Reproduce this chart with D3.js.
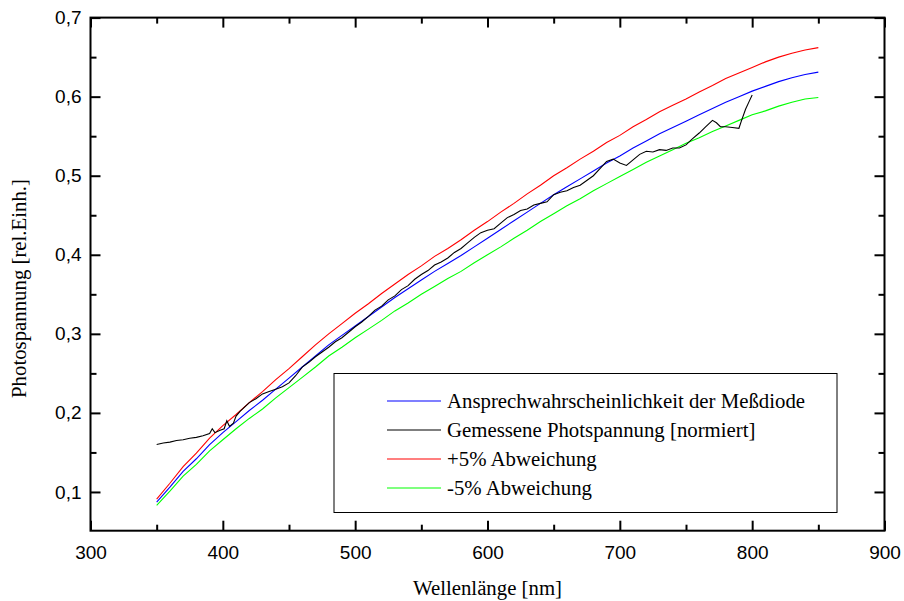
<!DOCTYPE html>
<html>
<head>
<meta charset="utf-8">
<script src="https://cdn.jsdelivr.net/npm/d3@7/dist/d3.min.js"></script>
<style>
  html, body { margin: 0; padding: 0; background: #fff; }
  svg { display: block; }
  .tick text { font-family: "Liberation Sans", Arial, sans-serif; font-size: 19px; fill: #000; }
  .title, .legend text { font-family: "Liberation Serif", "Times New Roman", serif; font-size: 20.8px; fill: #000; }
</style>
</head>
<body>
<svg id="chart" width="904" height="601"></svg>
<script>
// Wavelength grids (nm)
const wlModel = [350,360,370,380,390,400,410,420,430,440,450,460,470,480,490,500,510,520,530,540,550,560,570,580,590,600,610,620,630,640,650,660,670,680,690,700,710,720,730,740,750,760,770,780,790,800,810,820,830,840,850];

// Response of the measuring diode
const responseDiode = [0.087,0.106,0.126,0.142,0.160,0.175,0.189,0.203,0.216,0.230,0.244,0.258,0.272,0.286,0.298,0.310,0.322,0.334,0.346,0.357,0.368,0.379,0.389,0.399,0.410,0.421,0.432,0.443,0.454,0.465,0.476,0.486,0.496,0.506,0.516,0.525,0.535,0.544,0.553,0.561,0.569,0.577,0.585,0.593,0.600,0.607,0.613,0.619,0.624,0.628,0.631];

// +5 % band
const upperBand = [0.091,0.111,0.132,0.149,0.168,0.184,0.198,0.213,0.227,0.242,0.256,0.271,0.286,0.300,0.313,0.326,0.338,0.351,0.363,0.375,0.386,0.398,0.408,0.419,0.431,0.442,0.454,0.465,0.477,0.488,0.500,0.510,0.521,0.531,0.542,0.551,0.562,0.571,0.581,0.589,0.597,0.606,0.614,0.623,0.630,0.637,0.644,0.650,0.655,0.659,0.662];

// -5 % band
const lowerBand = [0.083,0.101,0.120,0.135,0.152,0.166,0.180,0.193,0.205,0.219,0.232,0.245,0.258,0.272,0.283,0.295,0.306,0.317,0.329,0.339,0.350,0.360,0.370,0.379,0.390,0.400,0.410,0.421,0.431,0.442,0.452,0.462,0.471,0.481,0.490,0.499,0.508,0.517,0.525,0.533,0.541,0.548,0.556,0.563,0.570,0.577,0.582,0.588,0.593,0.597,0.599];

// Measured photovoltage (normalised)
const wlMeasured = [350,355,360,365,370,375,380,385,390,392,394,398,401,403,405,408,410,413,415,420,425,430,435,440,445,450,455,460,465,470,475,480,485,490,495,500,505,510,515,520,525,530,535,540,545,550,555,560,565,570,575,580,585,590,595,600,605,610,615,620,625,630,635,640,645,650,655,660,665,670,675,680,685,690,695,700,705,710,715,720,725,730,735,740,745,750,755,760,765,770,773,776,780,785,790,792,795,798,800];
const measured = [0.160,0.162,0.163,0.165,0.166,0.168,0.169,0.171,0.174,0.180,0.175,0.178,0.180,0.190,0.183,0.187,0.196,0.202,0.205,0.213,0.218,0.224,0.227,0.230,0.233,0.238,0.247,0.258,0.264,0.271,0.277,0.283,0.290,0.295,0.302,0.309,0.315,0.322,0.330,0.335,0.343,0.348,0.356,0.361,0.369,0.375,0.380,0.387,0.391,0.396,0.403,0.408,0.415,0.422,0.428,0.431,0.433,0.440,0.447,0.451,0.456,0.458,0.463,0.465,0.467,0.476,0.479,0.481,0.485,0.488,0.494,0.500,0.509,0.518,0.521,0.516,0.513,0.520,0.527,0.531,0.530,0.533,0.532,0.535,0.535,0.539,0.547,0.554,0.562,0.570,0.567,0.562,0.562,0.561,0.560,0.570,0.584,0.595,0.602];

// Axis ticks
const xMajor = [300,400,500,600,700,800,900];
const xMajorLabels = ["300","400","500","600","700","800","900"];
const xMinor = [350,450,550,650,750,850];
const yMajor = [0.1,0.2,0.3,0.4,0.5,0.6,0.7];
const yMajorLabels = ["0,1","0,2","0,3","0,4","0,5","0,6","0,7"];
const yMinor = [0.15,0.25,0.35,0.45,0.55,0.65];

// Legend entries
const legendLabels = ["Ansprechwahrscheinlichkeit der Meßdiode","Gemessene Photspannung [normiert]","+5% Abweichung","-5% Abweichung"];
const legendColors = ["#0000ff","#000000","#ff0000","#00ff00"];

const svg = d3.select("#chart");
const plotL = 90.5, plotR = 884.5, plotT = 17.6, plotB = 530.7;

const x = d3.scaleLinear().domain([300, 900]).range([plotL, plotR]);
const y = d3.scaleLinear().domain([0.051, 0.7]).range([plotB, plotT]);

// Curves
const line = d3.line().x(d => x(d[0])).y(d => y(d[1]));
const series = [
  { pts: d3.zip(wlModel, lowerBand), color: "#00ff00" },
  { pts: d3.zip(wlModel, upperBand), color: "#ff0000" },
  { pts: d3.zip(wlModel, responseDiode), color: "#0000ff" },
  { pts: d3.zip(wlMeasured, measured), color: "#000000" }
];
svg.append("g").selectAll("path").data(series).join("path")
  .attr("d", d => line(d.pts))
  .attr("fill", "none")
  .attr("stroke", d => d.color)
  .attr("stroke-width", 1.1);

// Axes with inward ticks on all four sides
function styleAxis(g) {
  g.select(".domain").remove();
  g.selectAll(".tick line").attr("stroke", "#000").attr("stroke-width", 2);
}
const xLab = d => xMajorLabels[xMajor.indexOf(d)];
const yLab = d => yMajorLabels[yMajor.indexOf(d)];

svg.append("g").attr("transform", `translate(0,${plotB})`)
  .call(d3.axisBottom(x).tickValues(xMajor).tickFormat(xLab).tickSize(-10).tickPadding(15)).call(styleAxis);
svg.append("g").attr("transform", `translate(0,${plotB})`)
  .call(d3.axisBottom(x).tickValues(xMinor).tickFormat("").tickSize(-6)).call(styleAxis);
svg.append("g").attr("transform", `translate(0,${plotT})`)
  .call(d3.axisTop(x).tickValues(xMajor).tickFormat("").tickSize(-10)).call(styleAxis);
svg.append("g").attr("transform", `translate(0,${plotT})`)
  .call(d3.axisTop(x).tickValues(xMinor).tickFormat("").tickSize(-6)).call(styleAxis);

svg.append("g").attr("transform", `translate(${plotL},0)`)
  .call(d3.axisLeft(y).tickValues(yMajor).tickFormat(yLab).tickSize(-10).tickPadding(9)).call(styleAxis);
svg.append("g").attr("transform", `translate(${plotL},0)`)
  .call(d3.axisLeft(y).tickValues(yMinor).tickFormat("").tickSize(-6)).call(styleAxis);
svg.append("g").attr("transform", `translate(${plotR},0)`)
  .call(d3.axisRight(y).tickValues(yMajor).tickFormat("").tickSize(-10)).call(styleAxis);
svg.append("g").attr("transform", `translate(${plotR},0)`)
  .call(d3.axisRight(y).tickValues(yMinor).tickFormat("").tickSize(-6)).call(styleAxis);

// Frame
svg.append("rect")
  .attr("x", plotL).attr("y", plotT)
  .attr("width", plotR - plotL).attr("height", plotB - plotT)
  .attr("fill", "none").attr("stroke", "#000").attr("stroke-width", 2);

// Axis titles
svg.append("text").attr("class", "title")
  .attr("x", (plotL + plotR) / 2).attr("y", 595)
  .attr("text-anchor", "middle")
  .text("Wellenlänge [nm]");
svg.append("text").attr("class", "title")
  .attr("transform", "translate(26,288.5) rotate(-90)")
  .attr("text-anchor", "middle")
  .text("Photospannung [rel.Einh.]");

// Legend
const legend = svg.append("g").attr("class", "legend");
legend.append("rect")
  .attr("x", 334).attr("y", 373.5).attr("width", 503).attr("height", 139)
  .attr("fill", "#fff").attr("stroke", "#000").attr("stroke-width", 1);
const items = legend.selectAll("g.item").data(legendLabels).join("g")
  .attr("class", "item")
  .attr("transform", (d, i) => `translate(0,${401 + i * 29})`);
items.append("line")
  .attr("x1", 387).attr("x2", 441).attr("y1", 0).attr("y2", 0)
  .attr("stroke", (d, i) => legendColors[i]).attr("stroke-width", 1.1);
items.append("text")
  .attr("x", 447).attr("y", 6.5)
  .text(d => d);
</script>
</body>
</html>
